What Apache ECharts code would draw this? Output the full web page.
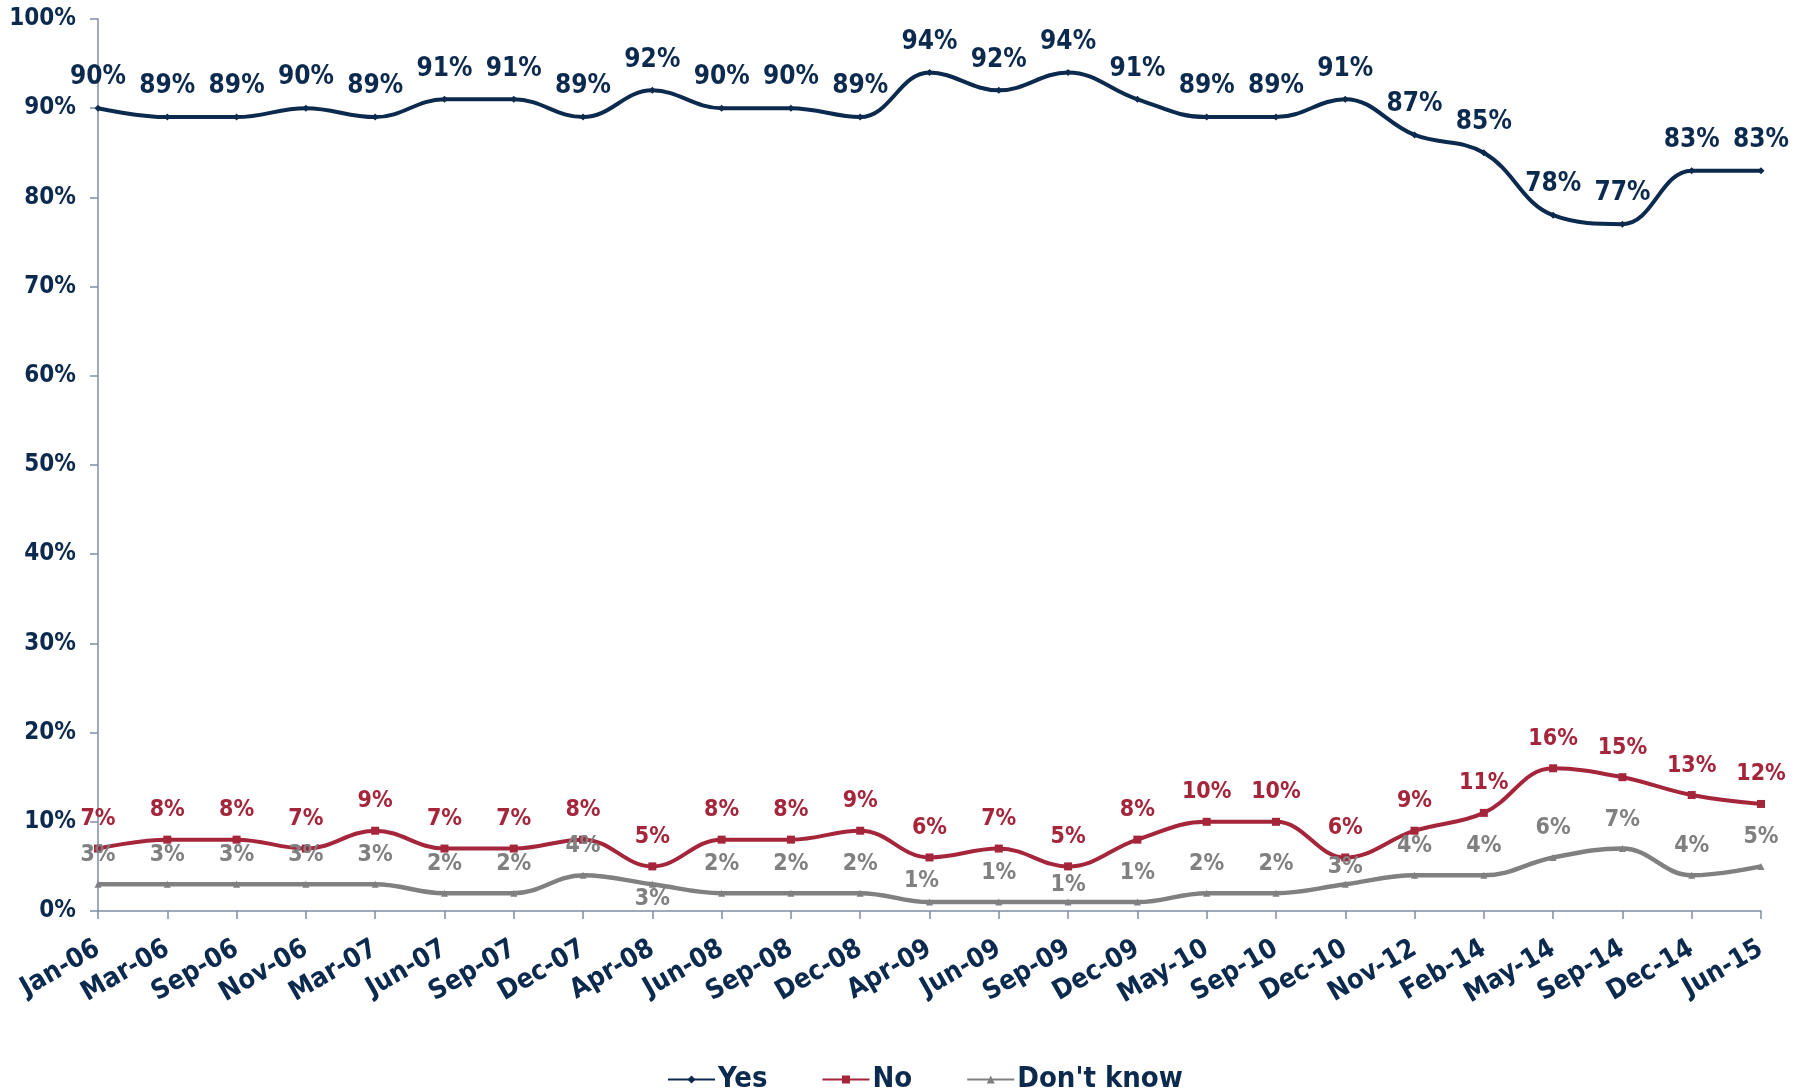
<!DOCTYPE html>
<html>
<head>
<meta charset="utf-8">
<title>Yes / No / Don't know</title>
<script src="https://cdn.jsdelivr.net/npm/echarts@6/dist/echarts.min.js"></script>
<style>
  html, body { margin: 0; padding: 0; background: #ffffff; }
  #chart { width: 1808px; height: 1092px; }
</style>
</head>
<body>
<div id="chart"></div>
<script>
// Survey waves
const categories = ['Jan-06', 'Mar-06', 'Sep-06', 'Nov-06', 'Mar-07', 'Jun-07', 'Sep-07', 'Dec-07',
  'Apr-08', 'Jun-08', 'Sep-08', 'Dec-08', 'Apr-09', 'Jun-09', 'Sep-09', 'Dec-09', 'May-10',
  'Sep-10', 'Dec-10', 'Nov-12', 'Feb-14', 'May-14', 'Sep-14', 'Dec-14', 'Jun-15'];

// Share of answers, percent
const yesValues = [90, 89, 89, 90, 89, 91, 91, 89, 92, 90, 90, 89, 94, 92, 94, 91, 89, 89, 91, 87, 85, 78, 77, 83, 83];
const noValues = [7, 8, 8, 7, 9, 7, 7, 8, 5, 8, 8, 9, 6, 7, 5, 8, 10, 10, 6, 9, 11, 16, 15, 13, 12];
const dontKnowValues = [3, 3, 3, 3, 3, 2, 2, 4, 3, 2, 2, 2, 1, 1, 1, 1, 2, 2, 3, 4, 4, 6, 7, 4, 5];

// Y axis ticks
const yTicks = { min: 0, max: 100, interval: 10 };

const FONT = "'DejaVu Sans Condensed', 'DejaVu Sans', sans-serif";
const NAVY = '#0c2a4e';
const RED = '#a5253b';
const GREY = '#808080';
const AXIS = '#7f8fa6';

// "Don't know" labels that sit closer to their point (or under it) to stay clear of the others
const dkLabelTweaks = {
  8: { position: 'bottom', distance: 0 },
  12: { position: 'top', distance: 6, offset: [-8, 0] },
  14: { position: 'top', distance: 2 },
  18: { position: 'top', distance: 2 }
};

const chart = echarts.init(document.getElementById('chart'), null, { renderer: 'canvas' });

function lineSeries(name, values, color, symbol, symbolSize, labelSize, width) {
  return {
    name: name,
    type: 'line',
    data: values,
    smooth: 0.4,
    symbol: symbol,
    symbolSize: symbolSize,
    showAllSymbol: true,
    lineStyle: { color: color, width: width },
    itemStyle: { color: color },
    label: {
      show: true,
      position: 'top',
      distance: 14,
      formatter: '{c}%',
      color: color,
      fontFamily: FONT,
      fontWeight: 'bold',
      fontSize: labelSize
    },
    emphasis: { disabled: true },
    z: 3
  };
}

const dkData = dontKnowValues.map((v, i) =>
  dkLabelTweaks[i] ? { value: v, label: dkLabelTweaks[i] } : v);

chart.setOption({
  animation: false,
  backgroundColor: '#ffffff',
  grid: { left: 98, right: 47, top: 19, bottom: 181, containLabel: false },
  legend: {
    top: 1060,
    left: 662,
    itemWidth: 47,
    itemHeight: 10,
    itemGap: 54,
    textStyle: { color: NAVY, fontFamily: FONT, fontWeight: 'bold', fontSize: 29, padding: [0, 0, 0, -2] },
    data: ['Yes', 'No', "Don't know"]
  },
  xAxis: {
    type: 'category',
    data: categories,
    boundaryGap: false,
    axisLine: { lineStyle: { color: AXIS, width: 1.5 } },
    axisTick: { show: true, alignWithLabel: true, length: 8, lineStyle: { color: AXIS, width: 1.5 } },
    axisLabel: {
      interval: 0,
      rotate: 30,
      margin: 36,
      color: NAVY,
      fontFamily: FONT,
      fontWeight: 'bold',
      fontSize: 27
    },
    splitLine: { show: false }
  },
  yAxis: {
    type: 'value',
    min: yTicks.min,
    max: yTicks.max,
    interval: yTicks.interval,
    axisLine: { show: true, lineStyle: { color: AXIS, width: 1.5 } },
    axisTick: { show: true, length: 8, lineStyle: { color: AXIS, width: 1.5 } },
    axisLabel: {
      formatter: '{value}%',
      margin: 22,
      color: NAVY,
      fontFamily: FONT,
      fontWeight: 'bold',
      fontSize: 24
    },
    splitLine: { show: false }
  },
  series: [
    lineSeries('Yes', yesValues, NAVY, 'diamond', 7, 26, 4),
    lineSeries('No', noValues, RED, 'rect', 8, 23, 4),
    lineSeries("Don't know", dkData, GREY, 'triangle', 7, 23, 4.5)
  ]
});
</script>
</body>
</html>
